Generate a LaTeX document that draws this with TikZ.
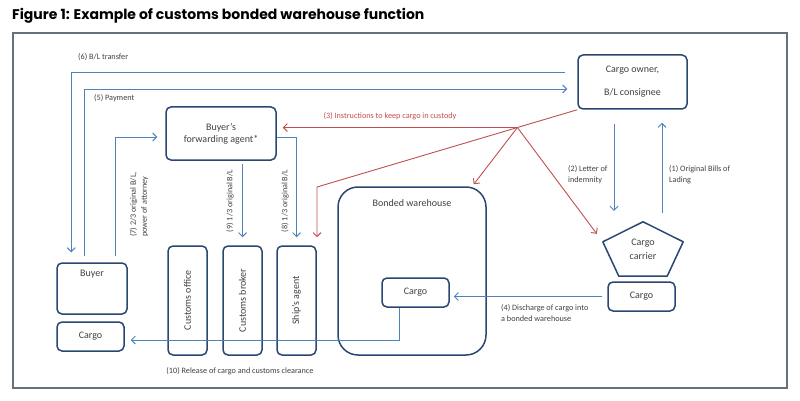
\documentclass[tikz,border=0pt]{standalone}
\usepackage{fontspec}
\setmainfont{Carlito}
\newfontfamily\titlefont{Poppins}
\usetikzlibrary{arrows.meta,positioning,calc}

\definecolor{boxblue}{HTML}{2A4672}
\definecolor{lineblue}{HTML}{4F81BD}
\definecolor{linered}{HTML}{C0504D}
\definecolor{txtgray}{HTML}{404040}
\definecolor{framegray}{HTML}{66717C}

\tikzset{
  box/.style={draw=boxblue, line width=1.5pt, rounded corners=5pt, inner sep=0pt,
    text=txtgray, font=\fontsize{10}{12}\selectfont, align=center},
  boxtitle/.style={text=txtgray, font=\fontsize{10}{12}\selectfont, inner sep=0pt},
  note/.style={text=txtgray, font=\fontsize{8.2}{11}\selectfont, inner sep=0pt},
  flow/.style={draw=lineblue, line width=0.9pt, -{Straight Barb[length=4pt,width=8pt]}},
  redflow/.style={draw=linered, line width=0.9pt, -{Straight Barb[length=4pt,width=8pt]}},
}

\begin{document}
\begin{tikzpicture}[x=1pt,y=-1pt]
\useasboundingbox (0,0) rectangle (800,401);

% Parametry
\def\cw{67pt}
\def\ch{29pt}

% ---------- Tytul i ramka ----------
\node[anchor=base west, inner sep=0pt, text=black,
  font=\titlefont\bfseries\fontsize{14}{16}\selectfont] (title) at (12,19.5)
  {Figure 1: Example of customs bonded warehouse function};
\draw[framegray, line width=1.2pt] (13,33) rectangle (787,388);

% ---------- Wlasciciel ladunku i przewoznik ----------
\node[box, minimum width=109pt, minimum height=54pt] (owner) at (632.5,82)
  {Cargo owner,\\[11pt]B/L consignee};
\node[boxtitle, align=center, minimum width=80pt, minimum height=54pt,
  font=\fontsize{10}{14}\selectfont] (carrier) at (643,249) {Cargo\\carrier};
\draw[boxblue, line width=1.5pt, line join=round] (carrier.north)
  -- ([yshift=-20pt]carrier.north east) -- ([xshift=-16pt]carrier.south east)
  -- ([xshift=16pt]carrier.south west) -- ([yshift=-20pt]carrier.north west) -- cycle;
\node[box, minimum width=\cw, minimum height=\ch] (ccargo) at (641.5,296.5) {Cargo};

% ---------- Sklad celny ----------
\node[box, rounded corners=20pt, minimum width=148pt, minimum height=168pt] (wh) at (412,271) {};
\node[boxtitle, below=13pt of wh.north] (whtitle) {Bonded warehouse};
\node[box, minimum width=\cw, minimum height=\ch] (whcargo) at (415.5,292.5) {Cargo};

% ---------- Kupujacy i agenci ----------
\node[box, minimum width=110pt, minimum height=53pt] (fwd) at (221,133.5)
  {Buyer's\\forwarding agent*};
\node[box, minimum width=70pt, minimum height=51pt] (buyer) at (92,288.5) {};
\node[boxtitle, below=8pt of buyer.north] (buyertitle) {Buyer};
\node[box, minimum width=\cw, minimum height=\ch] (bcargo) at (90.5,336.5) {Cargo};
\node[box, minimum width=39pt, minimum height=109pt] (office) at (187.5,300.5)
  {\rotatebox{90}{Customs office}};
\node[box, minimum width=39pt, minimum height=109pt] (broker) at (242.5,300.5)
  {\rotatebox{90}{Customs broker}};
\node[box, minimum width=39pt, minimum height=109pt] (ship) at (296.5,300.5)
  {\rotatebox{90}{Ship's agent}};

% ---------- Przeplyw dokumentow ----------
\draw[flow] ([xshift=19pt,yshift=9pt]carrier.north) -- ([xshift=29.5pt,yshift=-13pt]owner.south);
\draw[flow] ([xshift=-18.5pt,yshift=-14pt]owner.south) -- ([xshift=-29pt,yshift=11pt]carrier.north);
\draw[flow] ([xshift=-5pt]ccargo.west) -- ([xshift=4pt]ccargo.west -| whcargo.east);
\draw[flow] ([xshift=28pt,yshift=6pt]buyer.north west) |- ([xshift=-10pt,yshift=-7pt]owner.west);
\draw[flow] ([xshift=-12pt,yshift=10pt]owner.west) -| ([xshift=15pt,yshift=10pt]buyer.north west);
\draw[flow] ([xshift=59pt,yshift=6pt]buyer.north west) |- ([xshift=-8pt,yshift=-3.5pt]fwd.west);
\draw[flow] ([yshift=-3.5pt]fwd.east) -| ([yshift=8pt]ship.north);
\draw[flow] ([yshift=-3pt]fwd.south -| broker.north) -- ([yshift=8pt]broker.north);
\draw[flow] ([xshift=-16.5pt]whcargo.south) |- ([xshift=6pt,yshift=-3.5pt]bcargo.east);

% ---------- Instrukcje (czerwone) ----------
\coordinate (bend3) at (317,187);
\coordinate (split) at ($(owner.south west)!0.23!(bend3)$);
\draw[redflow] (owner.south west) -- (bend3) -- ([yshift=8pt]bend3 |- ship.north);
\draw[redflow] (split) -- ([xshift=6pt]split -| fwd.east);
\draw[redflow] (split) -- ([xshift=-13pt,yshift=2pt]wh.north east);
\draw[redflow] (split) -- ([xshift=-6pt,yshift=-12pt]carrier.north west);

% ---------- Opisy ----------
\node[note, anchor=west] (l6) at (78,57) {(6) B/L transfer};
\node[note, anchor=west] (l5) at (94,98) {(5) Payment};
\node[note, text=linered] (l3) at (390,116) {(3) Instructions to keep cargo in custody};
\node[note, align=left, anchor=west] (l2) at (568,174.5) {(2) Letter of\\indemnity};
\node[note, align=left, anchor=west] (l1) at (669,174.5) {(1) Original Bills of\\Lading};
\node[note, align=left, anchor=west] (l4) at (501,313.5) {(4) Discharge of cargo into\\a bonded warehouse};
\node[note, align=left, rotate=90] (l7) at (139,204.5) {(7) 2/3 original B/L,\\power of attorney};
\node[note, rotate=90] (l9) at (230,201) {(9) 1/3 original B/L};
\node[note, rotate=90] (l8) at (285,201) {(8) 1/3 original B/L};
\node[note] (l10) at (240,371) {(10) Release of cargo and customs clearance};

\end{tikzpicture}
\end{document}
